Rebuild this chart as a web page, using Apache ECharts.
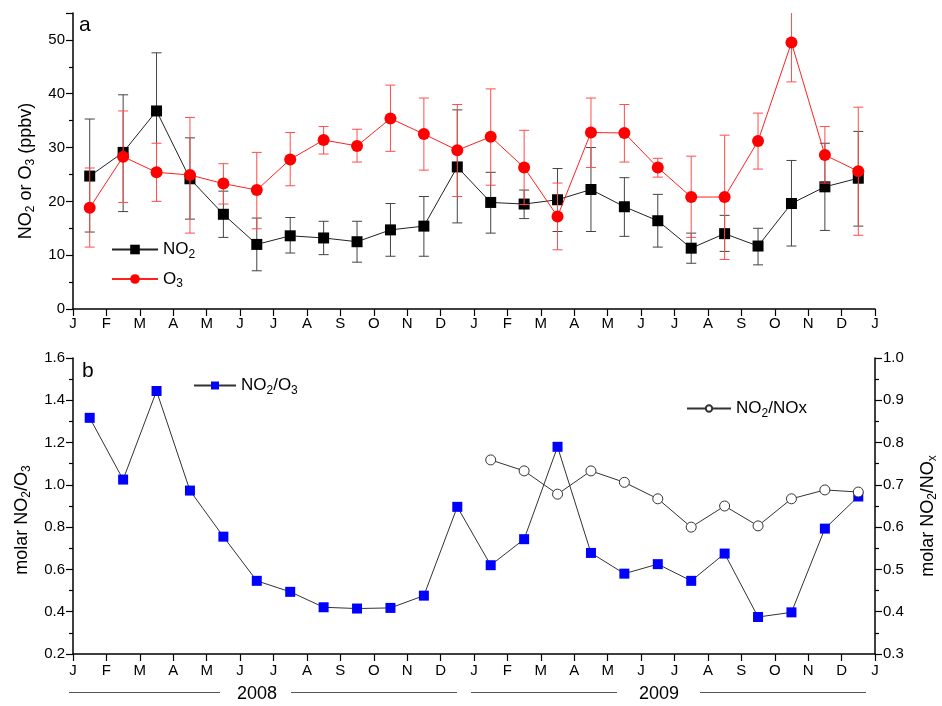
<!DOCTYPE html>
<html>
<head>
<meta charset="utf-8">
<script src="https://cdn.jsdelivr.net/npm/echarts@6/dist/echarts.min.js"></script>
<style>html,body{margin:0;padding:0;background:#fff}#c{width:942px;height:706px}</style>
</head>
<body>
<div id="c"></div>
<script>
// ---- data ----
const monthLabels = ['J','F','M','A','M','J','J','A','S','O','N','D','J','F','M','A','M','J','J','A','S','O','N','D','J'];
const no2   = [24.7,29.1,36.8,24.2,17.6,12.0,13.6,13.2,12.5,14.7,15.4,26.4,19.8,19.5,20.3,22.2,19.0,16.4,11.3,14.0,11.7,19.6,22.7,24.3];
const no2Hi = [35.3,39.8,47.6,31.8,21.9,16.9,17.0,16.3,16.3,19.6,20.9,37.0,25.4,22.1,26.1,30.0,24.4,21.3,14.1,17.4,15.0,27.6,30.8,33.0];
const no2Lo = [14.3,18.1,26.0,16.7,13.3,7.1,10.4,10.1,8.7,9.8,9.8,16.0,14.1,16.8,14.4,14.4,13.5,11.5,8.5,10.7,8.2,11.7,14.6,15.4];
const o3    = [18.8,28.3,25.4,24.9,23.3,22.1,27.8,31.4,30.3,35.4,32.5,29.5,32.0,26.3,17.2,32.8,32.7,26.3,20.8,20.8,31.2,49.5,28.6,25.6];
const o3Hi  = [26.2,36.8,30.8,35.6,27.0,29.1,32.8,33.9,33.4,41.6,39.2,38.0,40.9,33.2,23.4,39.2,38.0,28.0,28.4,32.3,36.4,56.8,33.9,37.5];
const o3Lo  = [11.5,19.8,20.0,14.1,19.5,14.9,22.9,28.8,27.3,29.3,25.8,20.9,23.0,19.4,11.0,26.3,27.3,24.5,13.3,9.2,26.0,42.2,23.4,13.7];
const ratioNO2O3  = [1.317,1.025,1.444,0.973,0.755,0.546,0.494,0.421,0.415,0.418,0.476,0.896,0.620,0.743,1.180,0.678,0.580,0.625,0.546,0.675,0.375,0.397,0.793,0.945];
const ratioNO2NOx = [null,null,null,null,null,null,null,null,null,null,null,null,0.759,0.733,0.678,0.733,0.706,0.667,0.600,0.650,0.603,0.667,0.688,0.683];
const years = ['2008','2009'];

const FONT = 'Liberation Sans, Arial, sans-serif';
const pts = arr => arr.map((v,i) => v == null ? [i+0.5, null] : [i+0.5, v]);
const errData = (lo, hi) => lo.map((l,i) => [i+0.5, l, hi[i]]);

const TOP_MAX = 55;
function errRender(color) {
  return function(params, api) {
    const x = api.value(0), lo = api.value(1), hi = api.value(2);
    const clampHi = Math.min(hi, TOP_MAX);
    const pLo = api.coord([x, lo]);
    const pHi = api.coord([x, clampHi]);
    const w = 5;
    const children = [
      {type:'line', shape:{x1:pLo[0], y1:pLo[1], x2:pHi[0], y2:pHi[1]}, style:{stroke:color, lineWidth:1}}
    ];
    children.push({type:'line', shape:{x1:pLo[0]-w, y1:pLo[1], x2:pLo[0]+w, y2:pLo[1]}, style:{stroke:color, lineWidth:1}});
    if (hi <= TOP_MAX) children.push({type:'line', shape:{x1:pHi[0]-w, y1:pHi[1], x2:pHi[0]+w, y2:pHi[1]}, style:{stroke:color, lineWidth:1}});
    return {type:'group', children};
  };
}

const richBase = {
  t: {fontSize: 17, fontFamily: FONT, color: '#000'},
  s: {fontSize: 12, fontFamily: FONT, color: '#000', padding: [10,0,0,0]}
};
const richTitle = {
  t: {fontSize: 18, fontFamily: FONT, color: '#000'},
  s: {fontSize: 12, fontFamily: FONT, color: '#000', padding: [10,0,0,0]}
};

const axisCommonX = (gi, margin) => ({
  type:'value', gridIndex: gi, min:0, max:24, interval:1,
  axisLine:{show:true, onZero:false, lineStyle:{color:'#000', width:1.5}},
  axisTick:{show:true, inside:false, length:7, lineStyle:{color:'#000', width:1.2}},
  axisLabel:{show:true, margin: margin, fontSize:15, fontFamily:FONT, color:'#000', formatter: v => monthLabels[Math.round(v)] || ''},
  splitLine:{show:false}
});

const chart = echarts.init(document.getElementById('c'), null, {renderer:'canvas'});
const option = {
  animation:false,
  backgroundColor:'#fff',
  grid:[
    {left:73, right:67, top:13, height:296},
    {left:73, right:67, top:358, height:296}
  ],
  xAxis:[ axisCommonX(0, 7), axisCommonX(1, 9) ],
  yAxis:[
    {type:'value', gridIndex:0, min:0, max:TOP_MAX, interval:10,
     axisLine:{show:true, lineStyle:{color:'#000', width:1.5}},
     axisTick:{show:true, length:7, lineStyle:{color:'#000', width:1.2}},
     minorTick:{show:true, splitNumber:2, length:4, lineStyle:{color:'#000', width:1.2}},
     axisLabel:{fontSize:15, fontFamily:FONT, color:'#000', margin:8, showMaxLabel:false, formatter: v => (v % 10 === 0 ? String(v) : '')},
     splitLine:{show:false}},
    {type:'value', gridIndex:1, min:0.2, max:1.6, interval:0.2, position:'left',
     axisLine:{show:true, onZero:false, lineStyle:{color:'#000', width:1.5}},
     axisTick:{show:true, length:7, lineStyle:{color:'#000', width:1.2}},
     minorTick:{show:true, splitNumber:2, length:4, lineStyle:{color:'#000', width:1.2}},
     axisLabel:{fontSize:15, fontFamily:FONT, color:'#000', margin:8, formatter: v => v.toFixed(1)},
     splitLine:{show:false}},
    {type:'value', gridIndex:1, min:0.3, max:1.0, interval:0.1, position:'right',
     axisLine:{show:true, onZero:false, lineStyle:{color:'#000', width:1.5}},
     axisTick:{show:true, length:7, lineStyle:{color:'#000', width:1.2}},
     minorTick:{show:true, splitNumber:2, length:4, lineStyle:{color:'#000', width:1.2}},
     axisLabel:{fontSize:15, fontFamily:FONT, color:'#000', margin:8, formatter: v => v.toFixed(1)},
     splitLine:{show:false}}
  ],
  legend:[
    {orient:'vertical', left:106, top:236, itemWidth:46, itemHeight:12, itemGap:10,
     data:['NO2','O3'], textStyle:{rich:richBase},
     formatter: n => n === 'NO2' ? '{t|NO}{s|2}' : '{t|O}{s|3}'},
    {left:188, top:372, itemWidth:42, itemHeight:10, data:['NO2/O3'], textStyle:{rich:richBase},
     formatter: () => '{t|NO}{s|2}{t|/O}{s|3}'},
    {left:681, top:395, itemWidth:44, itemHeight:8, data:['NO2/NOx'], textStyle:{rich:richBase},
     formatter: () => '{t|NO}{s|2}{t|/NOx}'}
  ],
  series:[
    {type:'custom', xAxisIndex:0, yAxisIndex:0, renderItem: errRender('#444'), data: errData(no2Lo, no2Hi), z:2, silent:true},
    {name:'NO2', type:'line', xAxisIndex:0, yAxisIndex:0, data: pts(no2), symbol:'rect', symbolSize:11,
     itemStyle:{color:'#000'}, lineStyle:{color:'#222', width:1}, z:3},
    {type:'custom', xAxisIndex:0, yAxisIndex:0, renderItem: errRender('#ff4d4d'), data: errData(o3Lo, o3Hi), z:4, silent:true},
    {name:'O3', type:'line', xAxisIndex:0, yAxisIndex:0, data: pts(o3), symbol:'circle', symbolSize:12,
     itemStyle:{color:'#ff0000'}, lineStyle:{color:'#ff2020', width:1}, z:5},
    {name:'NO2/O3', type:'line', xAxisIndex:1, yAxisIndex:1, data: pts(ratioNO2O3), symbol:'rect', symbolSize:10,
     itemStyle:{color:'#0000ff'}, lineStyle:{color:'#333', width:1}, z:3},
    {name:'NO2/NOx', type:'line', xAxisIndex:1, yAxisIndex:2, data: pts(ratioNO2NOx), symbol:'circle', symbolSize:10,
     itemStyle:{color:'#fff', borderColor:'#333', borderWidth:1}, lineStyle:{color:'#333', width:1}, z:4, connectNulls:false}
  ],
  graphic:[
    {type:'text', left:79, top:15, style:{text:'a', fontSize:21, fontFamily:FONT, fill:'#000'}},
    {type:'text', left:82, top:361, style:{text:'b', fontSize:21, fontFamily:FONT, fill:'#000'}},
    {type:'text', x:26, y:171, rotation:Math.PI/2,
     style:{text:'{t|NO}{s|2}{t| or O}{s|3}{t| (ppbv)}', rich:richTitle, align:'center', verticalAlign:'middle'}},
    {type:'text', x:22, y:520, rotation:Math.PI/2,
     style:{text:'{t|molar NO}{s|2}{t|/O}{s|3}', rich:richTitle, align:'center', verticalAlign:'middle'}},
    {type:'text', x:928, y:516, rotation:Math.PI/2,
     style:{text:'{t|molar NO}{s|2}{t|/NO}{s|x}', rich:richTitle, align:'center', verticalAlign:'middle'}},
    {type:'line', shape:{x1:69, y1:692.5, x2:220, y2:692.5}, style:{stroke:'#555', lineWidth:1}},
    {type:'line', shape:{x1:291, y1:692.5, x2:457, y2:692.5}, style:{stroke:'#555', lineWidth:1}},
    {type:'line', shape:{x1:471, y1:692.5, x2:617, y2:692.5}, style:{stroke:'#555', lineWidth:1}},
    {type:'line', shape:{x1:700, y1:692.5, x2:866, y2:692.5}, style:{stroke:'#555', lineWidth:1}},
    {type:'text', x:257, y:694, style:{text:years[0], fontSize:18, fontFamily:FONT, fill:'#000', align:'center', verticalAlign:'middle'}},
    {type:'text', x:659, y:694, style:{text:years[1], fontSize:18, fontFamily:FONT, fill:'#000', align:'center', verticalAlign:'middle'}}
  ]
};
chart.setOption(option);
</script>
</body>
</html>
